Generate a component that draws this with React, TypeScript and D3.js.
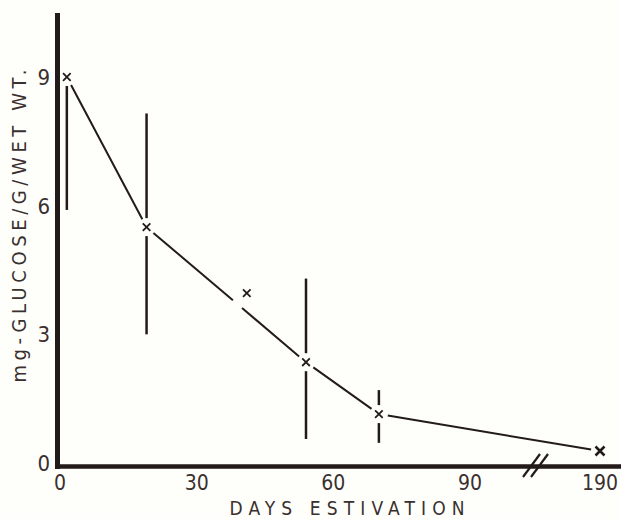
import React from "react";
import * as d3 from "d3";

// days of estivation and mean glucose (mg/g wet wt.)
const days = [1.5, 19, 41, 54, 70, 190];
const glucose = [9.0, 5.5, 3.96, 2.35, 1.14, 0.28];
// error bar ends (null = not drawn)
const errLow = [5.9, 3.0, null, 0.56, 0.47, null];
const errHigh = [null, 8.15, null, 4.3, 1.7, null];
// which points are joined by the line
const joined = [0, 1, 3, 4, 5];
const offLine = [2];

const xTicks = [0, 30, 60, 90, 190];
const yTicks = [0, 3, 6, 9];

const INK = "#231a1a";
const FONT = "'Liberation Sans Narrow', 'DejaVu Sans Condensed', 'Liberation Sans', sans-serif";

export default function App() {
  const W = 621, H = 519;
  const x = d3.scaleLinear().domain([0, 90, 190]).range([60, 470, 600]);
  const y = d3.scaleLinear().domain([0, 9]).range([463, 77]);
  const axisX = 57.5, axisY = 466.5;
  const gap = 9;

  // connecting line, broken around each marker
  const segs: string[] = [];
  for (let k = 0; k < joined.length - 1; k++) {
    const a = joined[k], b = joined[k + 1];
    const x0 = x(days[a]), y0 = y(glucose[a]);
    const x1 = x(days[b]), y1 = y(glucose[b]);
    const len = Math.hypot(x1 - x0, y1 - y0);
    const ux = (x1 - x0) / len, uy = (y1 - y0) / len;
    const cuts: [number, number][] = [];
    // gap where an off-line point sits near this segment
    offLine.forEach(i => {
      if (days[i] > days[a] && days[i] < days[b]) {
        const t = (x(days[i]) - x0) * ux + (y(glucose[i]) - y0) * uy;
        cuts.push([t - 6, t + 6]);
      }
    });
    let s = gap;
    const pieces: [number, number][] = [];
    cuts.forEach(([c0, c1]) => { pieces.push([s, c0]); s = c1; });
    pieces.push([s, len - gap]);
    pieces.forEach(([p0, p1]) => {
      segs.push(d3.line()([[x0 + ux * p0, y0 + uy * p0], [x0 + ux * p1, y0 + uy * p1]]) as string);
    });
  }

  return (
    <svg width={W} height={H} style={{ position: "absolute", left: 0, top: 0, background: "#fefffb" }}>
      <rect width={W} height={H} fill="#fefffb" />
      {/* axes */}
      <line x1={axisX} x2={axisX} y1={13} y2={469} stroke={INK} strokeWidth={5} />
      <line x1={55} x2={W} y1={axisY} y2={axisY} stroke={INK} strokeWidth={4.5} />
      {/* axis break */}
      {[0, 8].map(o => (
        <line key={o} x1={523 + o} y1={477} x2={540 + o} y2={454} stroke={INK} strokeWidth={2.2} />
      ))}

      {/* tick labels */}
      {yTicks.map(t => (
        <text key={t} x={50} y={y(t)} dy="0.36em" textAnchor="end" fontFamily={FONT} fontSize={22} fill="#3a3030">{t}</text>
      ))}
      {xTicks.map(t => (
        <text key={t} x={x(t)} y={490} textAnchor="middle" fontFamily={FONT} fontSize={21} fill="#3a3030">{t}</text>
      ))}
      <text x={347} y={515} textAnchor="middle" fontFamily={FONT} fontSize={19} fill="#3a3030"
        textLength={235} lengthAdjust="spacing">DAYS ESTIVATION</text>
      <text transform="translate(26,226) rotate(-90)" textAnchor="middle" fontFamily={FONT} fontSize={20} fill="#3a3030"
        textLength={313} lengthAdjust="spacing">mg-GLUCOSE/G/WET WT.</text>

      {/* line */}
      {segs.map((d, i) => <path key={i} d={d} fill="none" stroke={INK} strokeWidth={2} />)}

      {/* error bars */}
      {days.map((d, i) => (
        <g key={i}>
          {errHigh[i] !== null && (
            <line x1={x(d)} x2={x(d)} y1={y(errHigh[i] as number)} y2={y(glucose[i]) - gap} stroke={INK} strokeWidth={2.5} />
          )}
          {errLow[i] !== null && (
            <line x1={x(d)} x2={x(d)} y1={y(glucose[i]) + gap} y2={y(errLow[i] as number)} stroke={INK} strokeWidth={2.5} />
          )}
        </g>
      ))}

      {/* markers */}
      {days.map((d, i) => {
        const last = i === days.length - 1;
        const r = last ? 4.5 : 3.8;
        const cx = x(d), cy = y(glucose[i]);
        return (
          <path key={i} d={`M${cx - r},${cy - r}L${cx + r},${cy + r}M${cx + r},${cy - r}L${cx - r},${cy + r}`}
            stroke={INK} strokeWidth={last ? 2.6 : 1.8} fill="none" />
        );
      })}
    </svg>
  );
}
